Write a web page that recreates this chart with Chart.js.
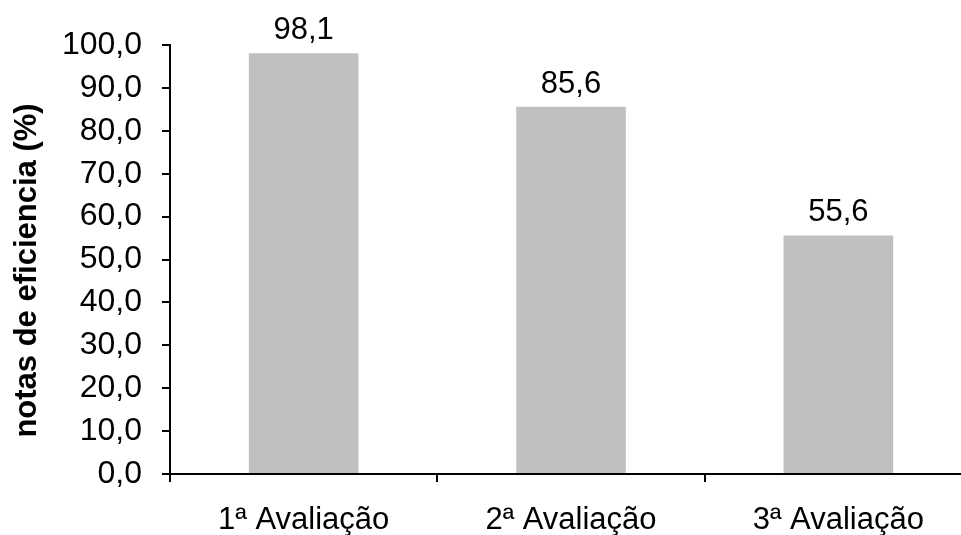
<!DOCTYPE html>
<html>
<head>
<meta charset="utf-8">
<script src="https://cdn.jsdelivr.net/npm/chart.js@4.4.1/dist/chart.umd.min.js"></script>
<style>
html,body{margin:0;padding:0;background:#fff;overflow:hidden;width:961px;height:535px;}
#wrap{width:985px;height:535px;}
</style>
</head>
<body>
<div id="wrap"><canvas id="c" width="985" height="535"></canvas></div>
<script>
const categories = ["1ª Avaliação", "2ª Avaliação", "3ª Avaliação"];
const values = [98.1, 85.6, 55.6];
const yTicks = [0, 10, 20, 30, 40, 50, 60, 70, 80, 90, 100];
const yTitle = "notas de eficiencia (%)";

const fmt = v => v.toFixed(1).replace('.', ',');
const FONT = "'Liberation Sans', Arial, sans-serif";
const FS = 31;

const dataLabels = {
  id: 'dataLabels',
  afterDatasetsDraw(chart) {
    const ctx = chart.ctx;
    const meta = chart.getDatasetMeta(0);
    ctx.save();
    ctx.fillStyle = '#000';
    ctx.font = FS + "px " + FONT;
    ctx.textAlign = 'center';
    ctx.textBaseline = 'alphabetic';
    meta.data.forEach((bar, i) => {
      ctx.fillText(fmt(values[i]), bar.x, bar.y - 14);
    });
    ctx.restore();
  }
};

const yTitlePlugin = {
  id: 'yTitlePlugin',
  afterDraw(chart) {
    const ctx = chart.ctx;
    const area = chart.chartArea;
    ctx.save();
    ctx.fillStyle = '#000';
    ctx.font = "bold " + FS + "px " + FONT;
    ctx.textAlign = 'center';
    ctx.textBaseline = 'middle';
    ctx.translate(27, (area.top + area.bottom) / 2 + 11);
    ctx.rotate(-Math.PI / 2);
    ctx.fillText(yTitle, 0, 0);
    ctx.restore();
  }
};

new Chart(document.getElementById('c'), {
  type: 'bar',
  data: {
    labels: categories,
    datasets: [{
      data: values,
      backgroundColor: '#C0C0C0',
      borderWidth: 0,
      barPercentage: 0.41,
      categoryPercentage: 1.0
    }]
  },
  options: {
    responsive: false,
    animation: false,
    devicePixelRatio: 1,
    layout: { padding: { top: 45, right: 13, left: 8, bottom: 0 } },
    plugins: { legend: { display: false }, tooltip: { enabled: false } },
    scales: {
      x: {
        offset: true,
        grid: { offset: true, drawOnChartArea: false, drawTicks: true, tickLength: 8, color: '#000', lineWidth: 2 },
        border: { display: true, color: '#000', width: 2 },
        ticks: { color: '#000', font: { family: FONT, size: FS }, padding: 20, maxRotation: 0 },
        afterFit(scale) { scale.height = 61; }
      },
      y: {
        min: 0, max: 100,
        afterBuildTicks(scale) { scale.ticks = yTicks.map(v => ({ value: v })); },
        grid: { drawOnChartArea: false, drawTicks: true, tickLength: 8, color: '#000', lineWidth: 2 },
        border: { display: true, color: '#000', width: 2 },
        ticks: { color: '#000', font: { family: FONT, size: 32 }, padding: 20, callback: v => fmt(v) },
        afterFit(scale) { scale.width = 162; }
      }
    }
  },
  plugins: [dataLabels, yTitlePlugin]
});
</script>
</body>
</html>
